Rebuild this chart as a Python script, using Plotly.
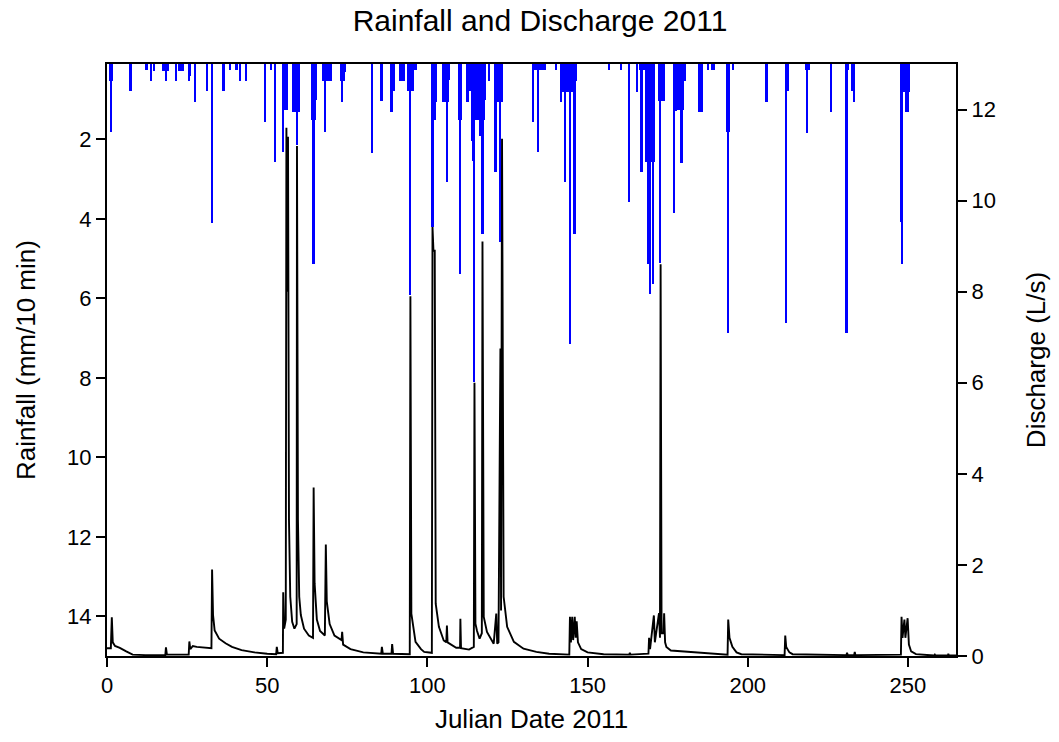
import plotly.graph_objects as go

# ---- Rainfall (mm per 10 min), Julian day ----
rain_day = [1.0, 1.3, 1.7, 7.4, 12.2, 12.6, 13.75, 14.7, 17.6, 18.0, 18.6, 19.0, 21.6, 22.6, 23.2, 23.8,
            25.7, 26.0, 27.6, 31.3, 32.8, 36.4, 36.7, 38.4, 40.5, 41.7, 43.4, 49.5, 51.25, 52.6,
            54.9, 55.1, 55.5, 55.9, 56.2, 58.2, 58.6, 59.0, 59.3, 59.7, 60.1, 64.0, 64.5, 64.9, 65.3,
            67.6, 68.2, 68.7, 69.2, 69.9, 73.1, 73.5, 74.0, 74.4, 82.7, 85.5, 85.9, 88.9, 89.5,
            91.7, 92.2, 92.6, 94.2, 94.7, 95.1, 95.5, 96.4, 101.5, 101.7, 102.0, 102.3, 102.7,
            105.1, 105.5, 106.1, 106.5, 106.8, 110.0, 110.3, 110.6, 112.4, 112.6, 113.2,
            114.0, 114.3, 114.7, 115.1, 115.5, 116.0, 116.4, 116.9, 117.3, 117.7, 118.1, 119.3,
            121.3, 121.8, 122.3, 122.8, 123.2, 133.0, 133.5, 134.0, 134.6, 135.3, 135.8, 136.4, 136.9,
            140.3, 141.7, 142.2, 142.6, 143.1, 143.6, 144.1, 144.7, 145.2, 146.0, 146.3,
            156.7, 160.5, 162.9, 165.5, 166.4, 166.9, 167.5, 168.4, 168.9, 169.5, 169.9, 170.5, 170.8,
            172.3, 172.8, 173.3, 173.8, 177.1, 177.5, 178.3, 178.7, 179.4, 179.7, 180.6,
            185.0, 185.6, 187.7, 188.9, 189.5, 193.6, 193.9, 194.3, 195.5, 205.9,
            211.9, 212.1, 212.5, 218.3, 218.6, 219.0, 226.1, 230.7, 230.9, 231.3, 232.8, 233.2,
            247.8, 248.0, 248.3, 248.7, 249.1, 249.4, 249.9, 250.3]
rain_mm = [0.52, 1.82, 0.52, 0.78, 0.26, 0.26, 0.54, 0.28, 0.28, 0.28, 0.54, 0.28, 0.54, 0.27, 0.27, 0.27,
           0.54, 0.39, 1.06, 0.79, 4.1, 0.79, 0.55, 0.26, 0.26, 0.54, 0.54, 1.56, 0.26, 2.57,
           1.27, 2.32, 1.27, 1.27, 1.27, 1.31, 1.31, 1.31, 2.15, 1.31, 1.31, 1.52, 5.13, 1.52, 1.0,
           0.52, 1.82, 0.52, 0.52, 0.52, 0.52, 1.06, 0.52, 0.3, 2.33, 1.04, 1.04, 1.31, 0.77,
           0.52, 0.54, 0.52, 0.77, 5.92, 0.77, 0.77, 0.26, 1.06, 4.2, 1.52, 1.52, 1.06,
           1.06, 1.06, 3.07, 1.06, 0.5, 1.52, 5.38, 1.52, 0.77, 1.06, 0.77,
           2.03, 2.53, 8.1, 1.52, 1.52, 1.52, 1.9, 1.52, 4.37, 1.52, 1.0, 0.52,
           2.82, 1.06, 1.06, 4.58, 1.06, 1.56, 0.26, 0.26, 2.32, 0.26, 0.26, 0.26, 0.26,
           0.26, 1.06, 0.81, 0.81, 3.07, 0.81, 0.81, 7.14, 0.81, 4.37, 0.52,
           0.26, 0.26, 3.58, 0.8, 0.26, 2.82, 0.26, 2.57, 5.13, 5.88, 2.57, 5.63, 2.57,
           1.02, 5.1, 1.02, 1.02, 3.85, 1.28, 1.27, 1.27, 2.59, 1.27, 0.54,
           1.3, 1.3, 0.26, 0.26, 0.26, 1.8, 6.88, 1.8, 0.26, 1.06,
           0.79, 6.63, 0.79, 0.26, 1.83, 0.26, 1.31, 0.26, 6.88, 0.26, 0.77, 1.06,
           0.81, 4.08, 5.13, 0.81, 0.81, 1.31, 1.31, 0.81]

# ---- Discharge (L/s), Julian day ----
q_day = [0, 1.2, 1.5, 1.8, 2.5, 4, 6, 8, 12, 18.2, 18.4, 18.7, 25.5, 25.7, 26, 26.8, 28, 31, 32.6, 32.8,
         33.1, 33.6, 35, 37, 39, 42, 46, 50, 52.8, 53, 53.3, 54.9, 55.0, 55.3, 55.8, 56.0, 56.3, 56.5,
         56.8, 57.2, 57.8, 58.5, 59.2, 59.3, 59.5, 59.6, 60, 60.5, 61.5, 63, 64.3, 64.5, 64.8, 65.5,
         66.5, 68.0, 68.3, 68.6, 69.5, 71, 73.2, 73.4, 73.7, 76, 80, 85.6, 85.8, 86.1, 88.8, 89, 89.3,
         94.5, 94.7, 95.0, 96.3, 98.0, 99, 101.4, 101.6, 101.9, 102.3, 102.6, 103.6, 105.1, 105.9,
         106.1, 106.3, 109, 110.2, 110.3, 110.5, 113.0, 114.5, 114.7, 115.0, 115.5, 116.3, 117.0,
         117.2, 117.6, 118.6, 120.7, 121.5, 121.8, 122.2, 122.8, 123.0, 123.3, 123.8, 124.9, 127,
         130, 134, 138, 144.3, 144.5, 144.8, 145.2, 145.5, 146.0, 146.3, 146.6, 147.0, 148, 150,
         155, 163, 163.2, 163.4, 169.0, 169.2, 169.5, 170.7, 171, 172.3, 172.6, 172.8, 173.1,
         173.7, 173.9, 174.2, 174.6, 176, 180, 185, 188.4, 193.7, 193.9, 194.3, 195.2, 196.5, 198,
         211.5, 211.7, 212.0, 213, 214, 230.8, 231, 231.2, 233.2, 233.4, 233.6, 247.8, 248.0,
         248.3, 248.9, 249.2, 249.9, 250.3, 251, 252.5, 258.2, 258.4, 258.6, 262.5, 262.6, 262.8, 265]
q_lps = [0.17, 0.17, 0.85, 0.3, 0.22, 0.18, 0.1, 0.03, 0.02, 0.02, 0.19, 0.03, 0.03, 0.32, 0.15, 0.22,
         0.2, 0.18, 0.17, 1.9, 0.9, 0.56, 0.38, 0.28, 0.2, 0.13, 0.08, 0.05, 0.04, 0.2, 0.06, 0.07,
         1.4, 0.6, 0.8, 11.6, 8.0, 11.4, 3.0, 1.3, 0.75, 0.6, 0.7, 11.2, 7.3, 3.0, 1.3, 0.9, 0.6,
         0.45, 0.4, 3.7, 1.6, 0.8, 0.55, 0.45, 2.45, 1.2, 0.7, 0.45, 0.35, 0.53, 0.25, 0.15, 0.08,
         0.05, 0.2, 0.05, 0.05, 0.26, 0.05, 0.04, 7.9, 0.93, 0.31, 0.15, 0.09, 0.07, 9.42, 8.9,
         8.9, 1.15, 0.64, 0.34, 0.3, 0.67, 0.3, 0.18, 0.18, 0.82, 0.17, 0.14, 0.2, 6.0, 0.71,
         0.55, 0.38, 0.5, 9.1, 0.86, 0.53, 0.27, 0.93, 0.27, 0.3, 6.75, 1.0, 11.36, 1.3, 0.64,
         0.31, 0.16, 0.09, 0.05, 0.03, 0.86, 0.3, 0.86, 0.35, 0.86, 0.4, 0.76, 0.3, 0.15, 0.08,
         0.04, 0.03, 0.07, 0.03, 0.05, 0.4, 0.15, 0.89, 0.3, 0.94, 0.4, 8.6, 0.5, 0.5, 0.94,
         0.3, 0.2, 0.12, 0.1, 0.08, 0.05, 0.03, 0.8, 0.4, 0.2, 0.08, 0.04, 0.02, 0.45, 0.2, 0.08,
         0.04, 0.02, 0.07, 0.02, 0.02, 0.09, 0.02, 0.03, 0.86, 0.4, 0.8, 0.4, 0.83, 0.25, 0.1,
         0.04, 0.01, 0.03, 0.01, 0.01, 0.05, 0.01, 0.01]

x_ticks = [0, 50, 100, 150, 200, 250]
rain_ticks = [2, 4, 6, 8, 10, 12, 14]
q_ticks = [0, 2, 4, 6, 8, 10, 12]

FONT = "Arial, Liberation Sans, sans-serif"

fig = go.Figure()
fig.add_trace(go.Scatter(x=q_day, y=q_lps, mode="lines", yaxis="y",
                         line=dict(color="black", width=1.9), showlegend=False))
fig.add_trace(go.Bar(x=rain_day, y=rain_mm, yaxis="y2", width=0.55, base=0,
                     marker=dict(color="#0000FF", line=dict(width=0)), showlegend=False))

axis_common = dict(showline=True, linecolor="black", linewidth=2, ticks="outside",
                   ticklen=9, tickwidth=2, tickcolor="black", showgrid=False, zeroline=False,
                   tickfont=dict(family=FONT, size=22, color="black"))

fig.update_layout(
    width=1059, height=742,
    margin=dict(l=107, r=103, t=64, b=86),
    paper_bgcolor="white", plot_bgcolor="white",
    barmode="overlay", bargap=0,
    title=dict(text="Rainfall and Discharge 2011", x=0.51, xref="paper", y=0.972, yanchor="middle",
               xanchor="center", font=dict(family=FONT, size=30, color="black")),
    xaxis=dict(range=[0, 265], tickvals=x_ticks, mirror=True,
               title=dict(text="Julian Date 2011", font=dict(family=FONT, size=26, color="black"), standoff=12),
               **axis_common),
    yaxis=dict(range=[0, 13], tickvals=q_ticks, side="right", anchor="x",
               title=dict(text="Discharge (L/s)", font=dict(family=FONT, size=26, color="black"), standoff=32),
               **axis_common),
    yaxis2=dict(range=[15, 0.1], tickvals=rain_ticks, side="left", overlaying="y", anchor="x",
                title=dict(text="Rainfall (mm/10 min)", font=dict(family=FONT, size=26, color="black"), standoff=24),
                **axis_common),
)

fig.write_html("out.html")
